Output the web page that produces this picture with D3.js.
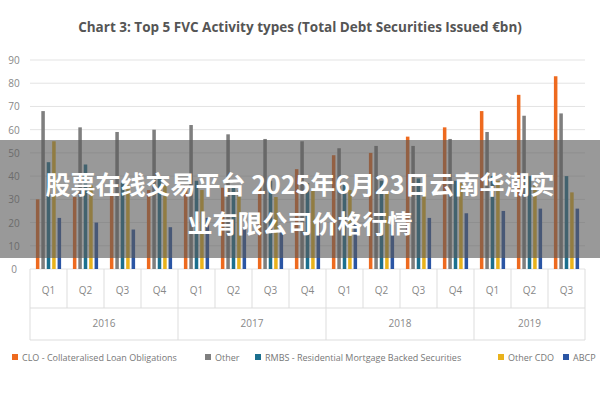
<!DOCTYPE html><html><head><meta charset="utf-8"><script src="https://cdn.jsdelivr.net/npm/d3@7"></script>
<style>body{margin:0;background:#fff}</style></head><body><svg id="c" width="600" height="400"></svg>
<script>
const years=["2016","2017","2018","2019"];
const quarters=[["Q1","Q2","Q3","Q4"],["Q1","Q2","Q3","Q4"],["Q1","Q2","Q3","Q4"],["Q1","Q2","Q3"]];
const seriesNames=["CLO - Collateralised Loan Obligations","Other","RMBS - Residential Mortgage Backed Securities","Other CDO","ABCP"];
const colors=["#EE6A1F","#7F7F7F","#1B6F8E","#E9B21C","#2A55A4"];
const clo=[30,31,33,34,36,35,36,43,49,50,57,61,68,75,83];
const other=[68,61,59,60,62,58,56,55,52,53,53,56,59,66,67];
const rmbs=[46,45,37,40,38,36,38,37,37,38,39,38,40,40,40];
const otherCdo=[55,36,36,36,34,34,31,34,34,33,33,37,38,37,33];
const abcp=[22,20,17,18,22,18,17,20,20,19,22,24,25,26,26];
const yTicks=[0,10,20,30,40,50,60,70,80,90];
const series=[clo,other,rmbs,otherCdo,abcp];
const svg=d3.select("#c");
const f="'Open Sans',sans-serif";
svg.append("text").attr("x",300).attr("y",32).attr("text-anchor","middle").attr("font-family",f).attr("font-size",13.5).attr("font-weight","bold").attr("fill","#555").text("Chart 3: Top 5 FVC Activity types (Total Debt Securities Issued €bn)");
const L=30,R=585,T=60,B=269;
const n=clo.length;
const x=d3.scaleBand().domain(d3.range(n)).range([L,R]);
const y=d3.scaleLinear().domain([0,90]).range([B,T]);
const xi=d3.scaleBand().domain(d3.range(5)).range([4,x.bandwidth()-4]).padding(0.35);
svg.append("g").selectAll("line").data(yTicks).join("line").attr("x1",L).attr("x2",R).attr("y1",d=>y(d)).attr("y2",d=>y(d)).attr("stroke","#e3e3e3");
svg.append("g").selectAll("text").data(yTicks).join("text").attr("x",14).attr("y",d=>y(d)+4).attr("text-anchor","middle").attr("font-family",f).attr("font-size",10).attr("fill","#888").text(d=>d);
series.forEach((s,k)=>{svg.append("g").selectAll("rect").data(s).join("rect").attr("x",(d,i)=>x(i)+xi(k)).attr("width",xi.bandwidth()).attr("y",d=>y(d)).attr("height",d=>B-y(d)).attr("fill",colors[k]);});
const qs=quarters.flat();
const g=svg.append("g").attr("font-family",f).attr("fill","#888");
g.selectAll("text").data(qs).join("text").attr("x",(d,i)=>x(i)+x.bandwidth()/2).attr("y",294).attr("text-anchor","middle").attr("font-size",10).attr("fill","#888").text(d=>d);
d3.range(n+1).forEach(i=>{const xx=i<n?x(i):R;svg.append("line").attr("x1",xx).attr("x2",xx).attr("y1",B).attr("y2",i%4==0||i==n?340:308).attr("stroke","#ddd");});
svg.append("line").attr("x1",L).attr("x2",R).attr("y1",308).attr("y2",308).attr("stroke","#ddd");
svg.append("line").attr("x1",L).attr("x2",R).attr("y1",340).attr("y2",340).attr("stroke","#ddd");
let start=0;years.forEach((yr,j)=>{const c=quarters[j].length;const x0=x(start),x1=start+c<n?x(start+c):R;
svg.append("text").attr("x",(x0+x1)/2).attr("y",327).attr("text-anchor","middle").attr("font-family",f).attr("font-size",10).attr("fill","#888").text(yr);start+=c;});
const lg=svg.append("g");const lx=[12,205,255,498,563];
seriesNames.forEach((s,k)=>{lg.append("rect").attr("x",lx[k]).attr("y",354).attr("width",6).attr("height",6).attr("fill",colors[k]);
lg.append("text").attr("x",lx[k]+10).attr("y",361).attr("font-family",f).attr("font-size",9).attr("fill","#777").text(s);});
svg.append("rect").attr("x",0).attr("y",140).attr("width",600).attr("height",118).attr("fill","#5a5a5a").attr("opacity",0.62);
svg.append("text").attr("x",300).attr("y",194).attr("text-anchor","middle").attr("font-family","'Noto Sans CJK SC'").attr("font-weight","bold").attr("font-size",25).attr("fill","#fff").text("股票在线交易平台 2025年6月23日云南华潮实");
svg.append("text").attr("x",300).attr("y",233).attr("text-anchor","middle").attr("font-family","'Noto Sans CJK SC'").attr("font-weight","bold").attr("font-size",25).attr("fill","#fff").text("业有限公司价格行情");
</script></body></html>
